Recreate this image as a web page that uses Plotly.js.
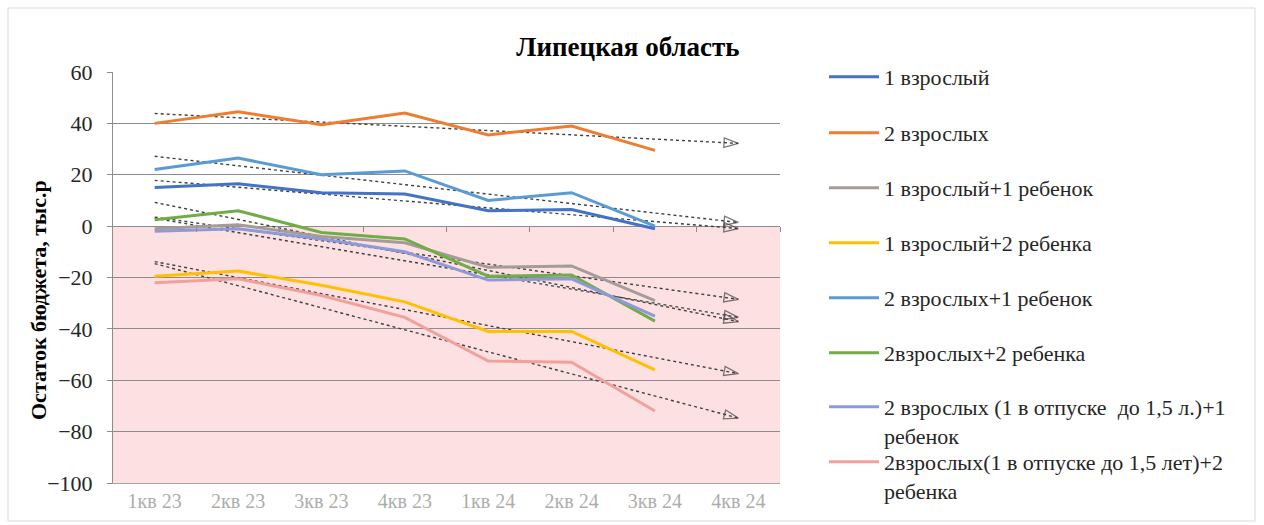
<!DOCTYPE html>
<html>
<head>
<meta charset="utf-8">
<script src="https://cdn.plot.ly/plotly-3.0.1.min.js"></script>
<style>html,body{margin:0;padding:0;background:#fff;}#chart{width:1264px;height:525px;}</style>
</head>
<body>
<div id="chart"></div>
<script>
const quarters = ["1кв 23","2кв 23","3кв 23","4кв 23","1кв 24","2кв 24","3кв 24","4кв 24"];
const seriesNames = [
  "1 взрослый",
  "2 взрослых",
  "1 взрослый+1 ребенок",
  "1 взрослый+2 ребенка",
  "2 взрослых+1 ребенок",
  "2взрослых+2 ребенка",
  "2 взрослых (1 в отпуске  до 1,5 л.)+1<br>ребенок",
  "2взрослых(1 в отпуске до 1,5 лет)+2<br>ребенка"
];
const adult1          = [15, 16.5, 13, 12.5, 6, 6.5, -1];
const adults2         = [40, 44.5, 39.5, 44, 35.5, 39, 29.5];
const adult1child1    = [-1, 0.5, -4, -6.5, -16, -15.5, -29];
const adult1child2    = [-19.5, -17.5, -23, -29.5, -41, -41, -56];
const adults2child1   = [22, 26.5, 20, 21.5, 10, 13, 0];
const adults2child2   = [2.5, 6, -2.5, -5, -19.5, -19, -37];
const leave2child1    = [-2, -1, -5, -10, -21, -20.5, -35];
const leave2child2    = [-22, -20.5, -27, -35.5, -52.5, -53, -72];
const yTitle = "Остаток бюджета, тыс.р";
const chartTitle = "Липецкая область";
const colors = ["#4472C4","#ED7D31","#A59C98","#FFC000","#5B9BD5","#70AD47","#8E9AD8","#F1A19B"];
const allSeries = [adult1, adults2, adult1child1, adult1child2, adults2child1, adults2child2, leave2child1, leave2child2];

const xs = allSeries[0].map((_, i) => i + 1);
const traces = [];
const serif = "'Liberation Serif', 'Times New Roman', serif";

// trendlines (linear regression of each series, forecast to next quarter)
allSeries.forEach((ys) => {
  const n = ys.length;
  const mx = xs.reduce((a, b) => a + b, 0) / n;
  const my = ys.reduce((a, b) => a + b, 0) / n;
  let sxy = 0, sxx = 0;
  for (let i = 0; i < n; i++) { sxy += (xs[i] - mx) * (ys[i] - my); sxx += (xs[i] - mx) ** 2; }
  const slope = sxy / sxx;
  const xEnd = quarters.length;
  traces.push({
    x: [1, xEnd], y: [my + slope * (1 - mx), my + slope * (xEnd - mx)],
    mode: "lines+markers", type: "scatter", showlegend: false, hoverinfo: "skip",
    line: {color: "#404040", width: 1.4, dash: "3px,3px"},
    marker: {size: [0, 15], symbol: "arrow-open", angleref: "previous", color: "#404040", line: {width: 1.3, color: "#404040"}}
  });
});

const legendNames = ["legend","legend2","legend3","legend4","legend5","legend6","legend7","legend8"];
allSeries.forEach((ys, k) => {
  traces.push({
    x: xs, y: ys, name: seriesNames[k], type: "scatter", mode: "lines",
    legend: legendNames[k],
    line: {color: colors[k], width: 3}
  });
});

traces.push({x: [1], y: [0], xaxis: "x2", mode: "markers", marker: {opacity: 0}, showlegend: false, hoverinfo: "skip"});

const L = 113, R = 780, T = 72, B = 483, W = 1264, H = 525;
const px = v => (v - L) / (R - L);
const py = v => (B - v) / (B - T);

const itemY = [77, 133, 188, 243, 298, 353, 408, 463];
const legendFont = {family: serif, size: 22, color: "#262626"};

const layout = {
  width: W, height: H,
  margin: {l: L, r: W - R, t: T, b: H - B},
  paper_bgcolor: "#ffffff", plot_bgcolor: "#ffffff",
  font: {family: serif, color: "#262626", size: 22},
  title: {text: "<b>" + chartTitle + "</b>", font: {family: serif, size: 27, color: "#000"},
          xref: "paper", x: px(628), xanchor: "center", yref: "container", y: 1 - 47 / H, yanchor: "middle"},
  xaxis: {
    range: [0.5, 8.5], tickvals: quarters.map((_, i) => i + 1), ticktext: quarters,
    showgrid: false, zeroline: false, showline: true, linecolor: "#A6A6A6", linewidth: 1,
    ticks: "", tickfont: {family: serif, size: 20, color: "#ADADAD"}
  },
  xaxis2: {
    overlaying: "x", anchor: "free", position: py(226), range: [0.5, 8.5],
    tickvals: [1.5,2.5,3.5,4.5,5.5,6.5,7.5,8.5], ticks: "outside", ticklen: 5, tickcolor: "#8C8C8C",
    showticklabels: false, showgrid: false, zeroline: false, showline: false
  },
  yaxis: {
    range: [-100, 60], dtick: 20, tick0: 0,
    showgrid: true, gridcolor: "#8C8C8C", gridwidth: 1, zeroline: false,
    showline: true, linecolor: "#8C8C8C", ticks: "outside", ticklen: 5, tickcolor: "#8C8C8C",
    ticklabelstandoff: 10,
    tickfont: {family: serif, size: 22, color: "#262626"}
  },
  annotations: [
    {text: "<b>" + yTitle + "</b>", xref: "paper", yref: "paper", x: px(38), y: py(300),
     xanchor: "center", yanchor: "middle", textangle: -90, showarrow: false,
     font: {family: serif, size: 22, color: "#000"}}
  ],
  shapes: [
    {type: "rect", xref: "paper", yref: "y", x0: 0, x1: 1, y0: -100, y1: 0, fillcolor: "#FDE1E2", line: {width: 0}, layer: "below"},
    {type: "rect", xref: "paper", yref: "paper", x0: px(8), x1: px(1255), y0: py(521), y1: py(8), line: {color: "#D9D9D9", width: 1}, fillcolor: "rgba(0,0,0,0)"}
  ],
  showlegend: true
};

legendNames.forEach((ln, k) => {
  const multi = seriesNames[k].indexOf("<br>") >= 0;
  layout[ln] = {
    x: px(824), xanchor: "left",
    y: multi ? py(itemY[k] - 22) : py(itemY[k]), yanchor: multi ? "top" : "middle",
    valign: "top",
    font: legendFont, itemwidth: 50, bgcolor: "rgba(0,0,0,0)", maxheight: 300
  };
});

Plotly.newPlot("chart", traces, layout, {displayModeBar: false, staticPlot: true});
</script>
</body>
</html>
